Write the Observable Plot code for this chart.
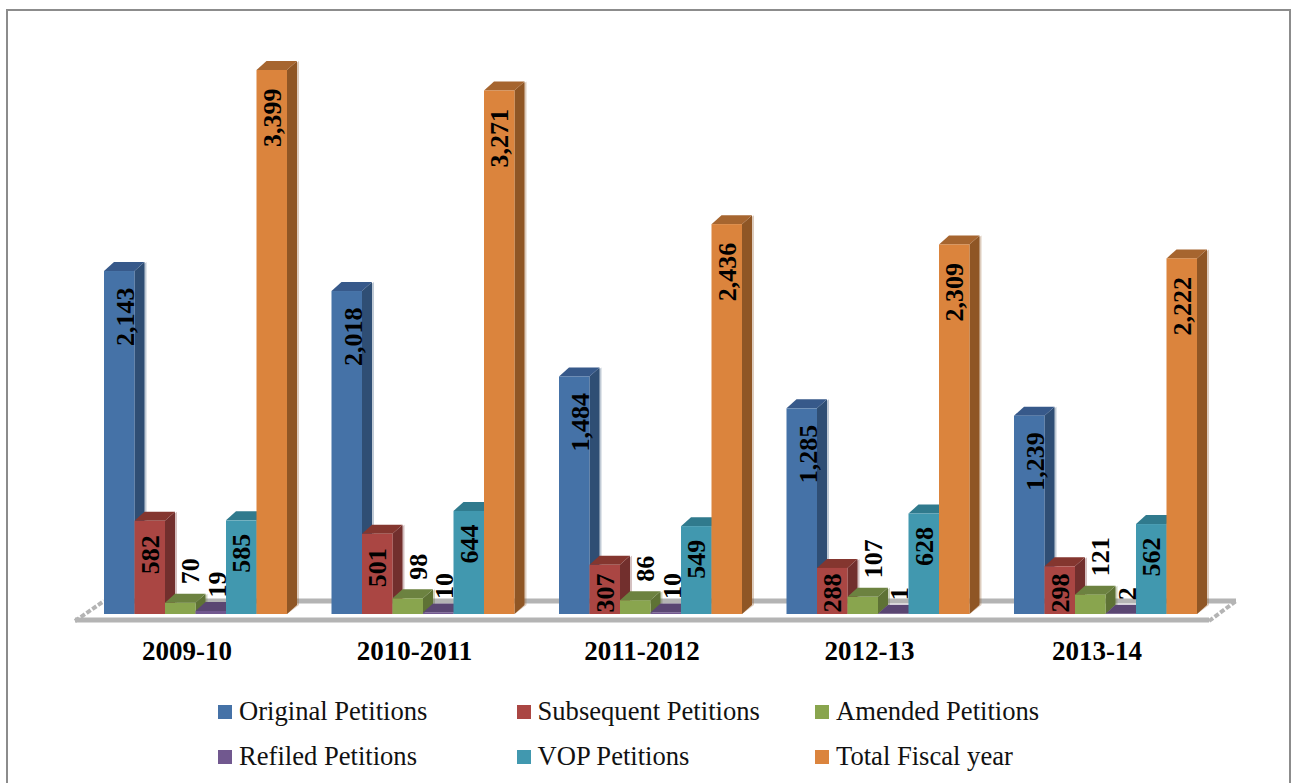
<!DOCTYPE html>
<html>
<head>
<meta charset="utf-8">
<script src="https://cdn.jsdelivr.net/npm/d3@7"></script>
<script src="https://cdn.jsdelivr.net/npm/@observablehq/plot@0.6"></script>
<style>
  html, body { margin: 0; padding: 0; background: #fff; overflow: hidden; width: 1291px; height: 783px; }
  #frame { position: absolute; left: 6px; top: 9px; width: 1281px; height: 800px; border: 2px solid #8c8c8c; }
  #chart { position: absolute; left: 0; top: 0; }
  #legend { position: absolute; left: 218px; top: 689px; display: grid; grid-template-columns: repeat(3, 298.5px); grid-auto-rows: 45px;
            font-family: "Liberation Serif", serif; font-size: 26.6px; color: #111; }
  #legend div { display: flex; align-items: center; height: 45px; }
  #legend i { display: inline-block; width: 14px; height: 14px; margin-right: 7px; }
</style>
</head>
<body>
<div id="frame"></div>
<div id="chart"></div>
<div id="legend"></div>
<script>
const years = ["2009-10", "2010-2011", "2011-2012", "2012-13", "2013-14"];
const seriesNames = ["Original Petitions", "Subsequent Petitions", "Amended Petitions", "Refiled Petitions", "VOP Petitions", "Total Fiscal year"];
const original = [2143, 2018, 1484, 1285, 1239];
const subsequent = [582, 501, 307, 288, 298];
const amended = [70, 98, 86, 107, 121];
const refiled = [19, 10, 10, 1, 2];
const vop = [585, 644, 549, 628, 562];
const total = [3399, 3271, 2436, 2309, 2222];
const frontColors = ["#4572a7", "#aa4643", "#89a54e", "#71588f", "#4198af", "#db843d"];
const sideColors = ["#2f4e74", "#722f2d", "#5e7235", "#4c3b60", "#2c6676", "#8f5625"];
const topColors = ["#37598a", "#84362f", "#6c8240", "#5a4672", "#307a8d", "#a6652f"];

const allSeries = [original, subsequent, amended, refiled, vop, total];
const rows = years.flatMap((year, i) => seriesNames.map((series, s) => ({
  year, series, s, value: allSeries[s][i], label: d3.format(",")(allSeries[s][i])
})));

const depthX = 10, depthY = 9;

function extrude(index, scales, values, dims, ctx, next) {
  const g = next(index, scales, values, dims, ctx);
  const rects = Array.from(g.querySelectorAll("rect"));
  rects.forEach((r, k) => {
    const d = rows[index[k]];
    const x = +r.getAttribute("x"), y = +r.getAttribute("y");
    const w = +r.getAttribute("width"), h = +r.getAttribute("height");
    const y0 = y + h;
    const poly = (pts, fill, op) => {
      const p = document.createElementNS("http://www.w3.org/2000/svg", "polygon");
      p.setAttribute("points", pts.map(q => q.join(",")).join(" "));
      p.setAttribute("fill", fill);
      if (op) p.setAttribute("fill-opacity", op);
      r.parentNode.insertBefore(p, r);
    };
    poly([[x + w, y], [x + w + depthX + 2, y - depthY], [x + w + depthX + 2, y0 - depthY], [x + w, y0]], sideColors[d.s], 0.3);
    poly([[x + w, y], [x + w + depthX, y - depthY], [x + w + depthX, y0 - depthY], [x + w, y0]], sideColors[d.s]);
    poly([[x, y], [x + depthX, y - depthY], [x + w + depthX, y - depthY], [x + w, y]], topColors[d.s]);
  });
  return g;
}

function floor(index, scales, values, dims) {
  const base = scales.y(0);
  const left = dims.marginLeft, right = dims.width - dims.marginRight;
  const g = d3.create("svg:g").attr("fill", "none").attr("stroke", "#b4b4b4");
  g.append("line").attr("x1", left - 29).attr("x2", right + 12).attr("y1", base + 6).attr("y2", base + 6).attr("stroke-width", 5);
  g.append("line").attr("x1", left).attr("x2", right + 39).attr("y1", base - 13).attr("y2", base - 13).attr("stroke-width", 5);
  g.append("line").attr("x1", left - 29).attr("x2", left).attr("y1", base + 7).attr("y2", base - 13).attr("stroke-width", 4).attr("stroke-dasharray", "5 2");
  g.append("line").attr("x1", right + 12).attr("x2", right + 39).attr("y1", base + 7).attr("y2", base - 13).attr("stroke-width", 4).attr("stroke-dasharray", "5 2");
  return g.node();
}

const labelStyle = {
  fx: "year", x: "series", y: "value", text: "label", rotate: -90,
  fontFamily: "Liberation Serif", fontWeight: "bold", fontSize: 26, fill: "#000", lineAnchor: "middle"
};

const chart = Plot.plot({
  width: 1291,
  height: 660,
  marginTop: 70,
  marginBottom: 46,
  marginLeft: 59.5,
  marginRight: 49.5,
  style: { background: "transparent", overflow: "visible" },
  fx: { domain: years, paddingInner: 0.1956, paddingOuter: 0.1956, align: 0.5, round: false, label: null },
  x: { domain: seriesNames, padding: 0, round: false, axis: null },
  y: { domain: [0, 3399], axis: null, nice: false },
  marks: [
    Plot.text([0], { facet: "super", frameAnchor: "bottom", text: () => " ", render: floor }),
    Plot.barY(rows, {
      fx: "year", x: "series", y: "value",
      fill: d => frontColors[d.s],
      render: extrude
    }),
    // tall bars: label sits inside, below the top of the bar
    Plot.text(rows.filter(d => d.value >= 1000 && d.s === 0), { ...labelStyle, textAnchor: "end", dx: 6, dy: 16 }),
    Plot.text(rows.filter(d => d.s === 5), { ...labelStyle, textAnchor: "end", dy: 18 }),
    Plot.text(rows.filter(d => d.s === 4), { ...labelStyle, textAnchor: "end", dy: 13 }),
    Plot.text(rows.filter(d => d.s === 1 && d.value >= 400), { ...labelStyle, textAnchor: "end", dy: 14 }),
    // short red bars: label rests on the base
    Plot.text(rows.filter(d => d.s === 1 && d.value < 400), { ...labelStyle, y: () => 0, textAnchor: "start", dy: -2 }),
    // tiny bars: label floats above the bar
    Plot.text(rows.filter(d => d.s === 2), { ...labelStyle, textAnchor: "start", dx: 10, dy: -19 }),
    Plot.text(rows.filter(d => d.s === 3), { ...labelStyle, textAnchor: "start", dx: 6, dy: -14 }),
    Plot.axisFx({
      anchor: "bottom", tickSize: 0, tickPadding: 26, label: null, dx: -9,
      fontFamily: "Liberation Serif", fontWeight: "bold", fontSize: 27, fill: "#000"
    })
  ]
});
document.getElementById("chart").appendChild(chart);

const legend = document.getElementById("legend");
seriesNames.forEach((name, s) => {
  const item = document.createElement("div");
  const swatch = document.createElement("i");
  swatch.style.background = frontColors[s];
  item.appendChild(swatch);
  item.appendChild(document.createTextNode(name));
  legend.appendChild(item);
});
</script>
</body>
</html>
